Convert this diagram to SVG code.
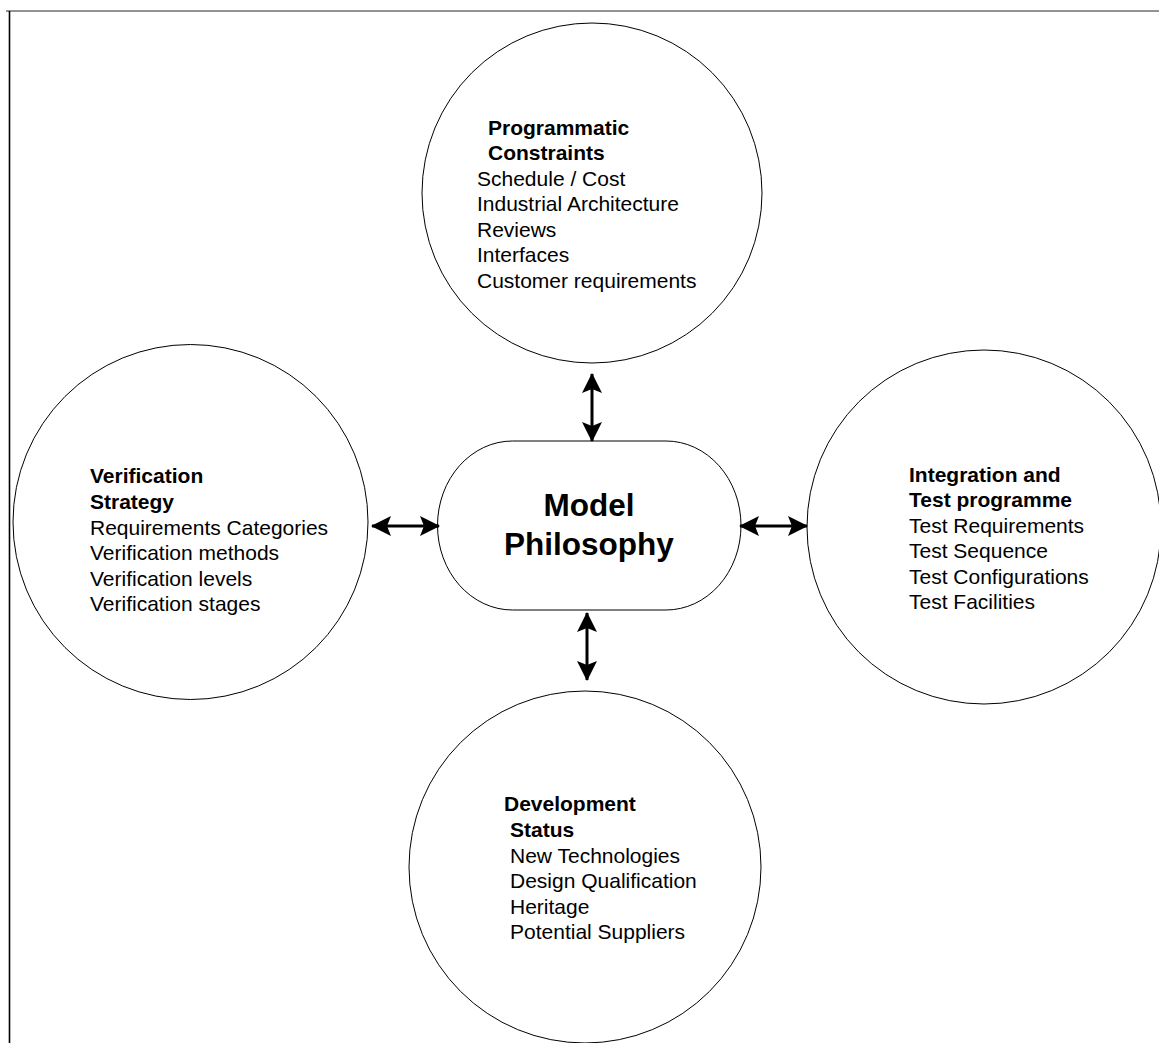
<svg xmlns="http://www.w3.org/2000/svg" width="1159" height="1043" viewBox="0 0 1159 1043">
<style>
.shape{fill:#fff;stroke:#000;stroke-width:1}
.t{font-family:"Liberation Sans",Arial,sans-serif;font-size:21px;fill:#000}
.b{font-weight:bold}
.title{font-family:"Liberation Sans",Arial,sans-serif;font-size:31.5px;font-weight:bold;fill:#000;text-anchor:middle}
.conn{stroke:#000;stroke-width:3;fill:none;marker-start:url(#ah);marker-end:url(#ah)}
</style>
<defs>
<marker id="ah" viewBox="0 0 20 20" refX="19" refY="10" markerWidth="20" markerHeight="20" markerUnits="userSpaceOnUse" orient="auto-start-reverse">
<path d="M0,0 L20,10 L0,20 L4,10 Z" fill="#000"/>
</marker>
</defs>
<rect x="0" y="0" width="1159" height="1043" fill="#fff"/>
<g id="frame">
<line x1="6" y1="11" x2="1159" y2="11" stroke="#6f6f6f" stroke-width="1.5"/>
<line x1="9.5" y1="11" x2="9.5" y2="1043" stroke="#000" stroke-width="1.6"/>
</g>
<g id="node-programmatic">
<circle class="shape" cx="592" cy="193" r="170"/>
<text class="t b" x="488" y="135">Programmatic</text>
<text class="t b" x="488" y="160">Constraints</text>
<text class="t" x="477" y="186">Schedule / Cost</text>
<text class="t" x="477" y="211">Industrial Architecture</text>
<text class="t" x="477" y="237">Reviews</text>
<text class="t" x="477" y="262">Interfaces</text>
<text class="t" x="477" y="288">Customer requirements</text>
</g>
<g id="node-verification">
<circle class="shape" cx="190.5" cy="522" r="177.5"/>
<text class="t b" x="90" y="483">Verification</text>
<text class="t b" x="90" y="509">Strategy</text>
<text class="t" x="90" y="535">Requirements Categories</text>
<text class="t" x="90" y="560">Verification methods</text>
<text class="t" x="90" y="586">Verification levels</text>
<text class="t" x="90" y="611">Verification stages</text>
</g>
<g id="node-integration">
<circle class="shape" cx="984" cy="527" r="177"/>
<text class="t b" x="909" y="482">Integration and</text>
<text class="t b" x="909" y="507">Test programme</text>
<text class="t" x="909" y="533">Test Requirements</text>
<text class="t" x="909" y="558">Test Sequence</text>
<text class="t" x="909" y="584">Test Configurations</text>
<text class="t" x="909" y="609">Test Facilities</text>
</g>
<g id="node-development">
<circle class="shape" cx="585" cy="867" r="176"/>
<text class="t b" x="504" y="811">Development</text>
<text class="t b" x="510" y="837">Status</text>
<text class="t" x="510" y="863">New Technologies</text>
<text class="t" x="510" y="888">Design Qualification</text>
<text class="t" x="510" y="914">Heritage</text>
<text class="t" x="510" y="939">Potential Suppliers</text>
</g>
<g id="node-model">
<rect class="shape" x="437.5" y="441" width="303.5" height="169" rx="75" ry="84.5"/>
<text class="title" x="589" y="516">Model</text>
<text class="title" x="589" y="555">Philosophy</text>
</g>
<g id="connectors">
<line class="conn" x1="592" y1="374" x2="592" y2="441"/>
<line class="conn" x1="372" y1="526" x2="439" y2="526"/>
<line class="conn" x1="740" y1="526" x2="807" y2="526"/>
<line class="conn" x1="587" y1="613" x2="587" y2="680"/>
</g>
</svg>
